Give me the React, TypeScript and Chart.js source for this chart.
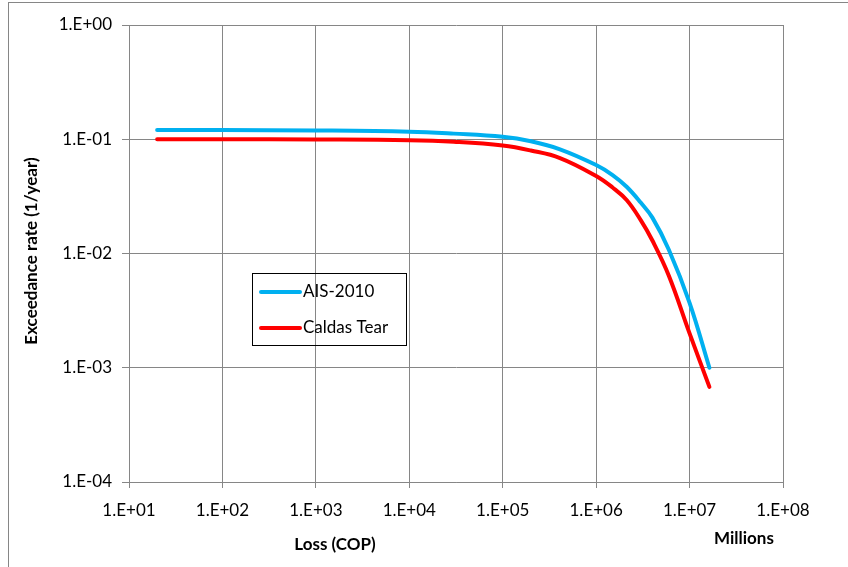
import React, { useEffect, useRef } from "react";
import { Chart, registerables } from "chart.js";

Chart.register(...registerables);

// Loss values (Millions COP)
const lossMillions = [20, 100, 1000, 1e4, 3e4, 1e5, 2e5, 4.1e5, 1e6, 1.5e6, 2.12e6, 3e6, 4e6, 6e6, 1e7, 1.63e7];
const ais2010 = [0.1205, 0.1203, 0.1195, 0.1166, 0.112, 0.105, 0.096, 0.0817, 0.0595, 0.0486, 0.0384, 0.0279, 0.0206, 0.0108, 0.0037, 0.001];
const caldasTear = [0.1, 0.1, 0.0995, 0.098, 0.095, 0.0881, 0.0797, 0.0685, 0.0477, 0.0378, 0.0294, 0.0196, 0.013, 0.0064, 0.002, 0.00068];

const seriesNames = ["AIS-2010", "Caldas Tear"];
const seriesColors = ["#00B0F0", "#FF0000"];
const xTicks = [1e1, 1e2, 1e3, 1e4, 1e5, 1e6, 1e7, 1e8];
const yTicks = [1e-4, 1e-3, 1e-2, 1e-1, 1e0];
const xTitle = "Loss (COP)";
const yTitle = "Exceedance rate (1/year)";
const unitLabel = "Millions";

const FONT = "Lato, 'Open Sans', sans-serif";
const GRID = "#868686";

function sci(v: number) {
  const e = Math.round(Math.log10(v));
  const sign = e < 0 ? "-" : "+";
  const a = Math.abs(e);
  return "1.E" + sign + (a < 10 ? "0" + a : String(a));
}

const overlay = {
  id: "overlay",
  afterDraw(chart: any) {
    const { ctx } = chart;
    ctx.save();
    ctx.fillStyle = "#000";
    ctx.font = `bold 17px ${FONT}`;
    ctx.textAlign = "center";
    ctx.textBaseline = "middle";
    ctx.fillText(xTitle, 335, 545);
    ctx.fillText(unitLabel, 744, 539);
    ctx.translate(32, 251);
    ctx.rotate(-Math.PI / 2);
    ctx.fillText(yTitle, 0, 0);
    ctx.restore();

    // legend
    ctx.save();
    ctx.strokeStyle = "#000";
    ctx.lineWidth = 1;
    ctx.strokeRect(252.5, 273.5, 154, 72);
    ctx.font = `17px ${FONT}`;
    ctx.textAlign = "left";
    ctx.textBaseline = "middle";
    const ys = [292, 328];
    chart.data.datasets.forEach((ds: any, i: number) => {
      ctx.strokeStyle = ds.borderColor;
      ctx.lineWidth = 4;
      ctx.lineCap = "round";
      ctx.beginPath();
      ctx.moveTo(261, ys[i]);
      ctx.lineTo(300, ys[i]);
      ctx.stroke();
      ctx.fillStyle = "#000";
      ctx.fillText(ds.label, 303, ys[i]);
    });
    ctx.restore();
  },
};

export default function App() {
  const ref = useRef<HTMLCanvasElement>(null);
  useEffect(() => {
    if (!ref.current) return;
    const chart = new Chart(ref.current, {
      type: "line",
      data: {
        datasets: [ais2010, caldasTear].map((vals, i) => ({
          label: seriesNames[i],
          data: lossMillions.map((x, j) => ({ x, y: vals[j] })),
          borderColor: seriesColors[i],
          backgroundColor: seriesColors[i],
          borderWidth: 4,
          pointRadius: 0,
          tension: 0.4,
          borderCapStyle: "round" as const,
          fill: false,
        })),
      },
      options: {
        animation: false,
        responsive: false,
        layout: { padding: { top: 25, right: 65, left: 0, bottom: 0 } },
        plugins: { legend: { display: false }, tooltip: { enabled: false } },
        scales: {
          x: {
            type: "logarithmic",
            min: 1e1,
            max: 1e8,
            afterBuildTicks: (s: any) => {
              s.ticks = xTicks.map((v) => ({ value: v }));
            },
            afterFit: (s: any) => {
              s.height = 85;
            },
            ticks: {
              callback: (v: any) => sci(Number(v)),
              color: "#000",
              font: { family: FONT, size: 17 },
              padding: 12,
              maxRotation: 0,
              autoSkip: false,
            },
            grid: { color: GRID, tickLength: 6, lineWidth: 1 },
            border: { color: GRID },
          },
          y: {
            type: "logarithmic",
            min: 1e-4,
            max: 1,
            afterBuildTicks: (s: any) => {
              s.ticks = yTicks.map((v) => ({ value: v }));
            },
            afterFit: (s: any) => {
              s.width = 129;
            },
            ticks: {
              callback: (v: any) => sci(Number(v)),
              color: "#000",
              font: { family: FONT, size: 17 },
              padding: 10,
              autoSkip: false,
            },
            grid: { color: GRID, tickLength: 7, lineWidth: 1 },
            border: { color: GRID },
          },
        },
      },
      plugins: [overlay],
    });
    return () => chart.destroy();
  }, []);
  return (
    <div style={{ position: "absolute", left: 0, top: 0, width: 848, height: 567, background: "#fff" }}>
      <canvas ref={ref} width={848} height={567} style={{ position: "absolute", left: 0, top: 0 }} />
      <div
        style={{
          position: "absolute",
          left: 8,
          top: 2,
          width: 840,
          height: 565,
          borderTop: "1px solid " + GRID,
          borderLeft: "1px solid " + GRID,
          boxSizing: "border-box",
          pointerEvents: "none",
        }}
      />
    </div>
  );
}
